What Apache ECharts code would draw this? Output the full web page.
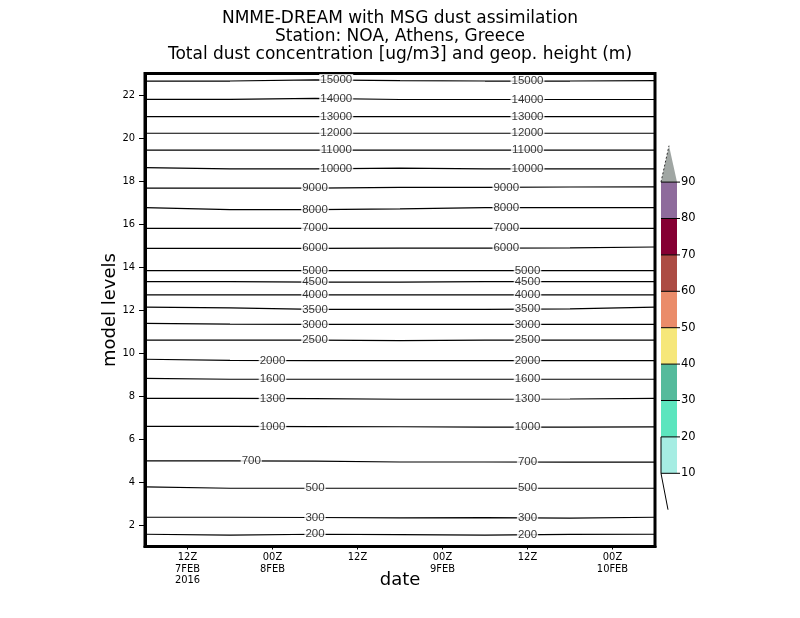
<!DOCTYPE html>
<html><head><meta charset="utf-8">
<script src="https://cdn.jsdelivr.net/npm/echarts@6/dist/echarts.min.js"></script>
<style>html,body{margin:0;padding:0;background:#fff}#c{width:800px;height:618px}</style>
</head><body><div id="c"></div>
<script>
// ---- data ----
const titleLines = ['NMME-DREAM with MSG dust assimilation', 'Station: NOA, Athens, Greece', 'Total dust concentration [ug/m3] and geop. height (m)'];
const times = [6, 18, 30, 42, 54, 66, 78]; // hours since 00Z 7FEB2016
const contourValues = [200,300,500,700,1000,1300,1600,2000,2500,3000,3500,4000,4500,5000,6000,7000,8000,9000,10000,11000,12000,13000,14000,15000];
const h200   = [1.57,1.53,1.57,1.55,1.53,1.56,1.57];
const h300   = [2.36,2.36,2.35,2.33,2.34,2.32,2.36];
const h500   = [3.77,3.71,3.71,3.71,3.71,3.71,3.71];
const h700   = [4.98,4.98,4.97,4.93,4.93,4.92,4.92];
const h1000  = [6.59,6.59,6.58,6.57,6.55,6.55,6.56];
const h1300  = [7.89,7.89,7.88,7.85,7.85,7.86,7.89];
const h1600  = [8.82,8.78,8.78,8.78,8.78,8.78,8.78];
const h2000  = [9.71,9.66,9.65,9.65,9.65,9.65,9.65];
const h2500  = [10.60,10.60,10.60,10.58,10.60,10.60,10.60];
const h3000  = [11.38,11.34,11.33,11.33,11.33,11.33,11.33];
const h3500  = [12.13,12.10,12.03,12.03,12.03,12.05,12.13];
const h4000  = [12.70,12.70,12.70,12.70,12.70,12.70,12.70];
const h4500  = [13.32,13.32,13.30,13.30,13.32,13.32,13.32];
const h5000  = [13.83,13.83,13.83,13.83,13.83,13.83,13.83];
const h6000  = [14.87,14.87,14.87,14.88,14.88,14.89,14.93];
const h7000  = [15.80,15.80,15.80,15.80,15.80,15.80,15.80];
const h8000  = [16.76,16.67,16.67,16.70,16.76,16.76,16.76];
const h9000  = [17.67,17.67,17.67,17.70,17.70,17.72,17.73];
const h10000 = [18.62,18.56,18.56,18.60,18.56,18.56,18.56];
const h11000 = [19.44,19.44,19.44,19.44,19.44,19.44,19.44];
const h12000 = [20.22,20.22,20.22,20.22,20.22,20.22,20.22];
const h13000 = [20.99,20.99,20.99,20.99,20.99,20.99,20.99];
const h14000 = [21.80,21.80,21.84,21.79,21.79,21.79,21.79];
const h15000 = [22.65,22.65,22.70,22.67,22.65,22.65,22.67];
const contourLevels = [h200,h300,h500,h700,h1000,h1300,h1600,h2000,h2500,h3000,h3500,h4000,h4500,h5000,h6000,h7000,h8000,h9000,h10000,h11000,h12000,h13000,h14000,h15000];
// time (hours) at which each contour carries its two labels
const labelTimeA = [30,30,30,21,24,24,24,24,30,30,30,30,30,30,30,30,30,30,33,33,33,33,33,33];
const labelTimeB = [60,60,60,60,60,60,60,60,60,60,60,60,60,60,57,57,57,57,60,60,60,60,60,60];
const xTickHours = [12, 24, 36, 48, 60, 72];
const xTickLabels = ['12Z\n7FEB\n2016', '00Z\n8FEB', '12Z', '00Z\n9FEB', '12Z', '00Z\n10FEB'];
const yTicks = [2,4,6,8,10,12,14,16,18,20,22];
const cbBounds = [10,20,30,40,50,60,70,80,90];
const cbColors = ['#a6ede3','#5ce5be','#55bb9c','#f6e77a','#ea8c6a','#ac4c44','#850033','#8e6b9c'];
const cbOverColor = '#a0a6a3';

// ---- helpers ----
function interp(arr, t) {
  for (let i = 0; i < times.length - 1; i++) {
    if (t >= times[i] && t <= times[i + 1]) {
      const f = (t - times[i]) / (times[i + 1] - times[i]);
      return arr[i] + f * (arr[i + 1] - arr[i]);
    }
  }
  return arr[arr.length - 1];
}

const series = contourLevels.map((arr, k) => ({
  type: 'line', name: String(contourValues[k]),
  data: times.map((t, i) => [t, arr[i]]),
  symbol: 'none', silent: true, animation: false,
  lineStyle: { color: '#000', width: 1.2 }, z: 2
}));
const labelData = [];
contourLevels.forEach((arr, k) => {
  [labelTimeA[k], labelTimeB[k]].forEach(t => {
    labelData.push({ value: [t, interp(arr, t)], name: String(contourValues[k]) });
  });
});
series.push({
  type: 'scatter', data: labelData, symbolSize: 1, silent: true, animation: false, z: 5,
  itemStyle: { color: 'rgba(0,0,0,0)' },
  label: {
    show: true, position: 'inside', formatter: p => p.name,
    fontFamily: 'Liberation Sans, Arial, sans-serif', fontSize: 11.5, color: '#000',
    backgroundColor: '#fff', padding: [0, 1, 0, 1]
  }
});

// ---- title + colour bar (legend) ----
const graphic = [];
titleLines.forEach((t, i) => {
  graphic.push({ type: 'text', silent: true, x: 400, y: 19 + i * 18,
    style: { text: t, fill: '#000', font: '17px "DejaVu Sans"', align: 'center', verticalAlign: 'middle' } });
});
const cbX = 661, cbW = 16, cbBottom = 473.3, cbStep = 36.4;
cbColors.forEach((c, i) => {
  graphic.push({ type: 'rect', silent: true,
    shape: { x: cbX, y: cbBottom - (i + 1) * cbStep, width: cbW, height: cbStep },
    style: { fill: c } });
});
const topY = cbBottom - cbColors.length * cbStep;
graphic.push({ type: 'polygon', silent: true,
  shape: { points: [[cbX, topY], [cbX + cbW, topY], [cbX + cbW / 2, topY - cbStep]] },
  style: { fill: cbOverColor } });
graphic.push({ type: 'line', silent: true,
  shape: { x1: cbX, y1: topY, x2: cbX + cbW / 2, y2: topY - cbStep },
  style: { stroke: '#333', lineWidth: 1, lineDash: [2, 2] } });
cbBounds.forEach((v, i) => {
  const y = cbBottom - i * cbStep;
  graphic.push({ type: 'line', silent: true,
    shape: { x1: cbX, y1: y, x2: cbX + cbW + 3, y2: y },
    style: { stroke: '#000', lineWidth: 1 } });
  graphic.push({ type: 'text', silent: true, x: cbX + cbW + 4, y: y,
    style: { text: String(v), fill: '#000', font: '11.5px "DejaVu Sans"', verticalAlign: 'middle', align: 'left' } });
});
graphic.push({ type: 'line', silent: true,
  shape: { x1: cbX, y1: cbBottom - cbStep, x2: cbX, y2: cbBottom },
  style: { stroke: '#000', lineWidth: 1 } });
graphic.push({ type: 'line', silent: true,
  shape: { x1: cbX, y1: cbBottom, x2: cbX + 7, y2: cbBottom + cbStep },
  style: { stroke: '#000', lineWidth: 1 } });

const chart = echarts.init(document.getElementById('c'), null, { renderer: 'canvas' });
chart.setOption({
  animation: false,
  backgroundColor: '#fff',
  grid: { left: 145, right: 145, top: 73.5, bottom: 71.5, show: true, borderColor: '#000', borderWidth: 3, backgroundColor: 'transparent' },
  xAxis: {
    type: 'value', min: 6, max: 78,
    axisLine: { show: true, lineStyle: { color: '#000', width: 3 } },
    axisTick: { show: true, customValues: xTickHours, length: 3, lineStyle: { color: '#000', width: 1 } },
    axisLabel: { customValues: xTickHours, formatter: v => xTickLabels[xTickHours.indexOf(v)] || '',
      fontFamily: 'Liberation Sans Narrow, DejaVu Sans Condensed, sans-serif', fontSize: 11, lineHeight: 11.5, color: '#000', margin: 5 },
    splitLine: { show: false },
    name: 'date', nameLocation: 'middle', nameGap: 25, nameMoveOverlap: false,
    nameTextStyle: { fontFamily: 'DejaVu Sans', fontSize: 18, color: '#000' }
  },
  yAxis: {
    type: 'value', min: 1, max: 23,
    axisLine: { show: true, lineStyle: { color: '#000', width: 3 } },
    axisTick: { show: true, customValues: yTicks, length: 6, lineStyle: { color: '#000', width: 1 } },
    axisLabel: { customValues: yTicks, fontFamily: 'Liberation Sans Narrow, DejaVu Sans Condensed, sans-serif', fontSize: 11, color: '#000', margin: 10 },
    splitLine: { show: false },
    name: 'model levels', nameLocation: 'middle', nameGap: 26, nameRotate: 90, nameMoveOverlap: false,
    nameTextStyle: { fontFamily: 'DejaVu Sans', fontSize: 18, color: '#000' }
  },
  graphic: graphic,
  series: series
});
</script></body></html>
